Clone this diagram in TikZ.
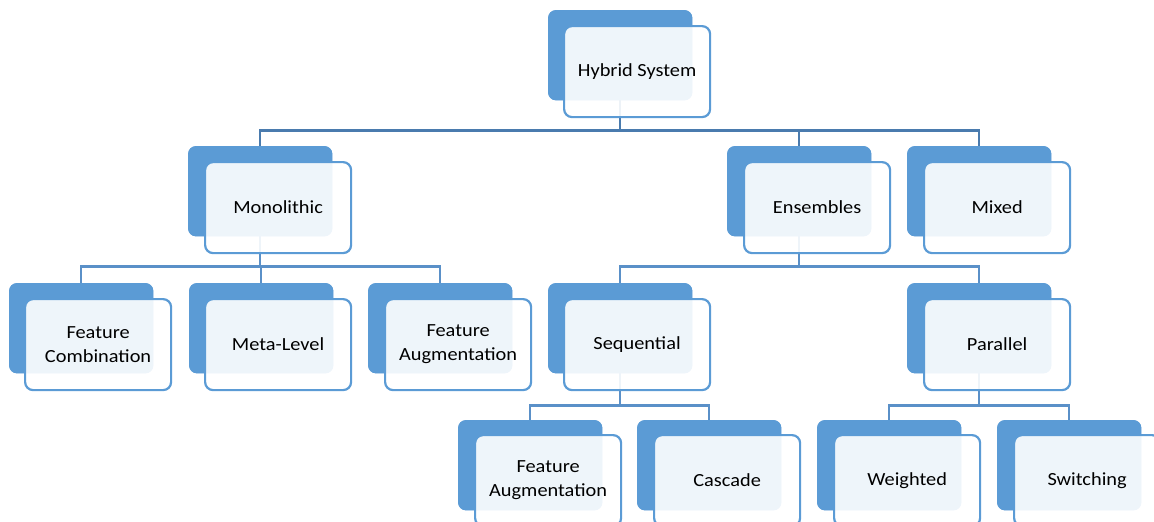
\documentclass[tikz,border=0pt]{standalone}
\usepackage{fontspec}
\setmainfont{Carlito}[FakeStretch=1.1]
\definecolor{backblue}{HTML}{5B9BD5}
\definecolor{connA}{HTML}{4A7BAE}
\definecolor{connB}{HTML}{5A90C8}
\begin{document}
\begin{tikzpicture}[x=1pt,y=-1pt,
  backbox/.style={fill=backblue, draw=none, rounded corners=8pt, minimum width=144pt, minimum height=90pt, anchor=north west, inner sep=0pt},
  frontbox/.style={draw=backblue, line width=2.2pt, fill=white, fill opacity=0.9, text opacity=1, rounded corners=8pt, minimum width=146pt, minimum height=91pt, anchor=north west, align=center, font=\fontsize{18.5}{24}\selectfont, inner sep=0pt, text=black},
  linkA/.style={draw=connA, line width=2.4pt},
  linkB/.style={draw=connB, line width=2.4pt}]
\path[use as bounding box] (0,0) rectangle (1154,522);
\clip (0,0) rectangle (1154,522);
% back boxes
\node[backbox] (hb) at (548,10) {};
\node[backbox] (mb) at (188,146) {};
\node[backbox] (eb) at (727,146) {};
\node[backbox] (xb) at (907,146) {};
\node[backbox] (fcb) at (9,283) {};
\node[backbox] (mlb) at (189,283) {};
\node[backbox] (fab) at (368,283) {};
\node[backbox] (sqb) at (548,283) {};
\node[backbox] (pab) at (907,283) {};
\node[backbox] (fa2b) at (458,420) {};
\node[backbox] (cab) at (637,420) {};
\node[backbox] (web) at (817,420) {};
\node[backbox] (swb) at (997,420) {};
% connectors
\draw[linkA] (hb.south) -- ++(0,30) -| (mb.north);
\draw[linkA] (hb.south) -- ++(0,30) -| (eb.north);
\draw[linkA] (hb.south) -- ++(0,30) -| (xb.north);
\draw[linkB] (mb.south) -- ++(0,30) -| (fcb.north);
\draw[linkB] (mb.south) -- ++(0,30) -| (mlb.north);
\draw[linkB] (mb.south) -- ++(0,30) -| (fab.north);
\draw[linkB] (eb.south) -- ++(0,30) -| (sqb.north);
\draw[linkB] (eb.south) -- ++(0,30) -| (pab.north);
\draw[linkB] (sqb.south) -- ++(0,32) -| (fa2b.north);
\draw[linkB] (sqb.south) -- ++(0,32) -| (cab.north);
\draw[linkB] (pab.south) -- ++(0,32) -| (web.north);
\draw[linkB] (pab.south) -- ++(0,32) -| (swb.north);
% back boxes redrawn over connectors
\foreach \b in {hb,mb,eb,xb,fcb,mlb,fab,sqb,pab,fa2b,cab,web,swb}{
  \fill[backblue, rounded corners=8pt] (\b.north west) rectangle (\b.south east);
}
% front boxes
\node[frontbox] (h) at (563,25) {Hybrid System};
\node[frontbox] (m) at (204,161) {Monolithic};
\node[frontbox] (e) at (743,161) {Ensembles};
\node[frontbox] (x) at (923,161) {Mixed};
\node[frontbox] (fc) at (24,298) {Feature\\Combination};
\node[frontbox] (ml) at (204,298) {Meta-Level};
\node[frontbox] (fa) at (384,298) {Feature\\Augmentation};
\node[frontbox] (sq) at (563,298) {Sequential};
\node[frontbox] (pa) at (923,298) {Parallel};
\node[frontbox] (fa2) at (474,434) {Feature\\Augmentation};
\node[frontbox] (ca) at (653,434) {Cascade};
\node[frontbox] (we) at (833,434) {Weighted};
\node[frontbox] (sw) at (1013,434) {Switching};
\end{tikzpicture}
\end{document}
